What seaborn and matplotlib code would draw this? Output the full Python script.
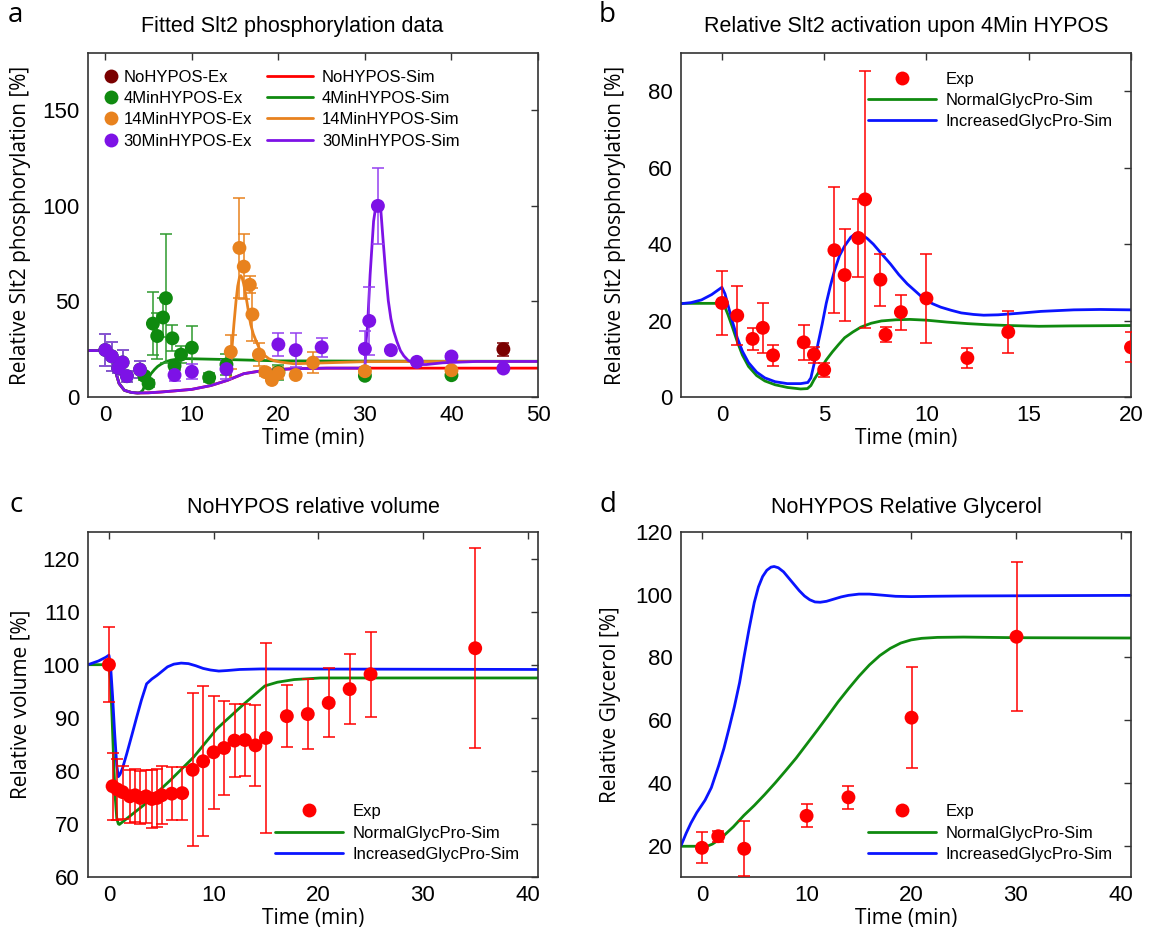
import numpy as np
import pandas as pd
import matplotlib
matplotlib.use("Agg")
import matplotlib.pyplot as plt
from matplotlib.lines import Line2D
import seaborn as sns

# ---------------- data: panel a ----------------
# simulated curves
sim_no_t = [-2, 0, 0.5, 0.8, 1.0, 1.3, 1.6, 2.2, 3.0, 3.7, 5, 6.4, 8, 10, 12.2, 14.1, 16, 17.9, 20, 21.8, 25.6, 30, 40, 50]
sim_no_v = [24.3, 24.3, 23.5, 21.5, 17.5, 11.5, 7, 3.5, 2.4, 2.1, 2.2, 2.6, 3.2, 4, 6, 8.7, 12.2, 13.6, 14.4, 14.8, 15.1, 15.1, 15.1, 15.1]

sim4_t = [-2, 0, 0.5, 0.8, 1.0, 1.3, 1.6, 2.2, 3.0, 3.7, 4.0, 4.34, 4.6, 4.92, 5.3, 5.69, 6.05, 6.45, 7.0, 7.6, 8.3, 9.14, 11.06, 14.1, 20, 30, 40, 50]
sim4_v = [24.3, 24.3, 23.5, 21.5, 17.5, 11.5, 7, 3.5, 2.4, 2.1, 2.2, 3.6, 6.5, 9.7, 12.3, 14.4, 16, 17.2, 18.5, 19.3, 19.8, 20.1, 19.9, 19.6, 18.9, 18.8, 18.7, 18.7]

sim14_t = [14.1, 14.45, 14.55, 14.86, 15.1, 15.3, 15.5, 15.65, 15.8, 16.0, 16.2, 16.4, 16.6, 16.8, 17.1, 17.4, 17.9, 18.4, 18.9, 19.5, 20.2, 21.8, 24.1, 30, 40, 50]
sim14_v = [8.7, 9.5, 20.9, 38, 50, 58, 62.5, 63.5, 62.5, 59, 54, 48.7, 43, 38, 33, 29.6, 24.3, 21.8, 20, 19, 18.3, 17.4, 17.7, 18.5, 18.6, 18.6]

sim30_t = [-2, 0, 0.5, 0.8, 1.0, 1.3, 1.6, 2.2, 3.0, 3.7, 5, 6.4, 8, 10, 12.2, 14.1, 16, 17.9, 20, 21.8, 25.6, 30,
           30.15, 30.3, 30.6, 31.0, 31.3, 31.6, 31.8, 32.1, 32.4, 32.7, 33.0, 33.3, 33.7, 34.1, 34.5, 35, 35.6, 36.2, 37.1, 39, 42.9, 50]
sim30_v = [24.3, 24.3, 23.5, 21.5, 17.5, 11.5, 7, 3.5, 2.4, 2.1, 2.2, 2.6, 3.2, 4, 6, 8.7, 12.2, 13.6, 14.4, 14.8, 15.1, 15.1,
           30, 37, 64, 92, 101, 101.5, 100, 82, 65, 50.4, 41, 34.8, 29, 24.3, 21.5, 19.1, 17.8, 17, 17, 17.9, 18.6, 18.6]

# experimental points
exp_no_t = [46]
exp_no_v = [25]
exp_no_e = [3.5]

exp4_t = [0, 0.75, 1.5, 2, 2.5, 4, 4.5, 5, 5.5, 6, 6.67, 7, 7.75, 8, 8.75, 10, 12, 14, 20, 30, 40]
exp4_v = [24.6, 21.3, 15.2, 18.1, 10.9, 14.3, 11.1, 7.1, 38.4, 31.9, 41.6, 51.7, 30.7, 16.3, 22.2, 25.8, 10.2, 17.0, 13.0, 11.1, 11.4]
exp4_e = [8.3, 7.7, 2.9, 6.6, 2.8, 4.6, 2.1, 1.9, 16.5, 12, 10.2, 33.7, 6.8, 2, 4.6, 11.6, 2.6, 5.5, 3.9, 1.0, 1.0]

exp14_t = [14.5, 15.5, 16, 16.7, 17, 17.75, 18.5, 19.25, 20, 22, 24, 30, 40]
exp14_v = [23.6, 78, 68.2, 58.7, 43.2, 22.2, 13, 8.9, 12.5, 11.5, 18, 13.5, 14]
exp14_e = [9, 26, 17, 4.5, 14, 6, 2, 1, 3, 1, 5.5, 1, 1]

exp30_t = [0, 0.75, 1.5, 2, 2.5, 4, 8, 10, 14, 20, 22, 25, 30, 30.5, 31.5, 33, 36, 40, 46]
exp30_v = [24.6, 21.3, 15.2, 18.1, 10.9, 14.3, 11.5, 13.2, 14.6, 27.5, 24.5, 26, 25.2, 39.8, 100, 24.5, 18.4, 21.2, 14.9]
exp30_e = [8.3, 7.7, 2.9, 6.6, 2.8, 4.6, 3, 4, 5, 6, 9, 5, 9.5, 18, 19.7, 1, 1, 1.5, 1]

# ---------------- data: panel b ----------------
b_exp_t = [0, 0.75, 1.5, 2, 2.5, 4, 4.5, 5, 5.5, 6, 6.67, 7, 7.75, 8, 8.75, 10, 12, 14, 20]
b_exp_v = [24.6, 21.3, 15.2, 18.1, 10.9, 14.3, 11.1, 7.1, 38.4, 31.9, 41.6, 51.7, 30.7, 16.3, 22.2, 25.8, 10.2, 17.0, 13.0]
b_exp_e = [8.3, 7.7, 2.9, 6.6, 2.8, 4.6, 2.1, 1.9, 16.5, 12, 10.2, 33.7, 6.8, 2, 4.6, 11.6, 2.6, 5.5, 3.9]

b_norm_t = [-2, 0, 0.15, 0.3, 0.5, 0.75, 1.0, 1.3, 1.7, 2.1, 2.6, 3.2, 3.85, 4.18, 4.35, 4.5, 4.7, 4.9, 5.1, 5.4, 5.7,
            6.0, 6.4, 6.8, 7.3, 7.8, 8.5, 9.2, 10, 11, 12, 13, 14, 15.5, 17, 20]
b_norm_v = [24.5, 24.5, 23.5, 21.5, 18.5, 14.5, 11, 8, 5.6, 4.2, 3.2, 2.5, 2.1, 2.2, 3.0, 4.5, 6.2, 8, 9.7, 11.8, 13.7,
            15.5, 17, 18.3, 19.3, 19.9, 20.2, 20.3, 20.1, 19.6, 19.2, 18.9, 18.7, 18.5, 18.6, 18.7]

b_inc_t = [-2, -1.5, -1.0, -0.5, 0, 0.15, 0.3, 0.5, 0.75, 1.0, 1.3, 1.7, 2.1, 2.6, 3.2, 3.85, 4.2, 4.35, 4.5, 4.7, 4.9,
           5.1, 5.3, 5.5, 5.75, 6.0, 6.3, 6.55, 6.8, 7.1, 7.4, 7.8, 8.24, 8.65, 9.06, 9.5, 9.87, 10.3, 10.7, 11.2,
           11.7, 12.3, 12.8, 13.5, 14.5, 15.6, 17.2, 18.5, 20]
b_inc_v = [24.4, 24.7, 25.4, 26.8, 28.7, 27, 24, 20, 15.5, 12, 9, 6.5, 5, 4, 3.5, 3.5, 3.8, 5, 8.5, 14, 19,
           24.5, 29, 33, 37, 39.5, 41.8, 42.8, 42.6, 41.5, 40, 37.5, 34.8, 32, 29.6, 27.5, 25.7, 24.4, 23.5, 22.7,
           22, 21.6, 21.4, 21.5, 21.9, 22.4, 22.8, 22.9, 22.8]

# ---------------- data: panel c ----------------
c_exp_t = [0, 0.35, 0.8, 1.3, 2.0, 2.5, 3.0, 3.55, 4.1, 4.6, 5.05, 6.0, 7.0, 8, 9, 10, 11, 12, 13, 14, 15, 17, 19, 21, 23, 25, 35]
c_exp_v = [100, 77.1, 76.5, 76, 75.2, 75.4, 74.9, 75.2, 74.7, 74.9, 75.4, 75.7, 75.8, 80.2, 81.8, 83.5, 84.3, 85.7, 85.8, 84.8, 86.2, 90.3, 90.7, 92.8, 95.4, 98.2, 103.1]
c_exp_e = [7.1, 6.3, 5.7, 5, 5, 5, 5, 5, 5.5, 5.5, 5.5, 5, 5, 14.4, 14.1, 10.6, 8.8, 6.8, 6.7, 7.6, 17.9, 5.8, 6.6, 6.5, 6.6, 8, 18.8]

c_norm_t = [-2, 0, 0.15, 0.3, 0.45, 0.6, 0.75, 0.9, 1.0, 3.3, 5.85, 8.1, 10.3, 12.9, 14.9, 16.1, 17.7, 20.2, 41]
c_norm_v = [100, 100, 97, 90, 82, 75, 71, 70, 69.9, 73.5, 78.2, 82.6, 87.9, 92.6, 96, 96.7, 97.2, 97.5, 97.5]

c_inc_t = [-2, -1, -0.3, 0, 0.15, 0.35, 0.55, 0.75, 0.9, 1.05, 1.3, 1.7, 2.2, 2.65, 3.1, 3.6, 4.1, 4.6, 5.1, 5.6, 6.2,
           6.9, 7.6, 8.3, 9.0, 9.7, 10.5, 11.3, 12.5, 14.5, 41]
c_inc_v = [100, 100.7, 101.4, 101.8, 100, 94, 87, 81, 78.9, 79.3, 80.5, 83.2, 86.8, 90.1, 93.3, 96.4, 97.3, 98, 98.8, 99.6, 100.1,
           100.3, 100.2, 99.8, 99.3, 99, 98.8, 98.9, 99.1, 99.2, 99.1]

# ---------------- data: panel d ----------------
d_exp_t = [0, 1.56, 4.04, 10, 14, 20.03, 30.06]
d_exp_v = [19.3, 23, 19, 29.5, 35.4, 60.8, 86.6]
d_exp_lo = [4.8, 1.9, 8.8, 3.7, 3.7, 16.1, 23.7]
d_exp_hi = [4.9, 1.6, 8.7, 3.9, 3.7, 16.3, 23.9]

d_norm_t = [-2, 0.5, 1.0, 1.5, 2.0, 3.0, 4.0, 5.0, 6.0, 7.0, 8.0, 9.0, 10.0, 11.0, 12.0, 13.0, 14.0, 15.0, 16.0, 17.0,
            18.0, 19.0, 20.0, 21.0, 22.5, 25, 30, 41]
d_norm_v = [19.8, 19.8, 20.5, 21.6, 22.9, 26, 29.6, 32.8, 36.3, 40, 43.9, 47.9, 52.3, 56.7, 61.2, 65.8, 70, 74, 77.6, 80.6,
            82.9, 84.6, 85.6, 86.1, 86.4, 86.5, 86.3, 86.2]

d_inc_t = [-2, -1.5, -1.05, -0.5, 0, 0.3, 0.6, 0.9, 1.2, 1.6, 2.1, 2.6, 3.1, 3.6, 4.04, 4.5, 5.0, 5.4, 5.8, 6.2, 6.6,
           6.9, 7.3, 7.8, 8.3, 8.8, 9.3, 9.8, 10.3, 10.8, 11.3, 11.9, 12.6, 13.3, 14, 15, 16, 17.1, 18.5, 20, 22, 25, 41]
d_inc_v = [20, 24, 27.2, 30.5, 33, 34.5, 36.5, 38.5, 41.5, 45.5, 51, 57.5, 64.3, 72, 80.5, 89, 97.5, 102.5, 105.8, 107.8, 108.8,
           109, 108.6, 107.3, 105.3, 103.3, 101.3, 99.6, 98.4, 97.7, 97.6, 97.9, 98.6, 99.3, 99.8, 100.2, 100.2, 99.9, 99.5,
           99.4, 99.5, 99.6, 99.8]

# ---------------- style ----------------
sns.set_theme(style="white")
plt.rcParams['font.family'] = ['Liberation Sans', 'DejaVu Sans']
plt.rcParams['text.color'] = 'black'
plt.rcParams['axes.labelcolor'] = 'black'

C_RED = '#ff0000'
C_GREEN = '#0f8a0f'
C_ORANGE = '#e8821e'
C_PURPLE = '#7d12e6'
C_MAROON = '#7a0000'
C_BLUE = '#0a14ff'
LW = 2.0
MS = 10
TICK_FS = 16
TITLE_FS = 15.5
LABEL_FS = 15
LEG_FS = 12
LABEL_FONT = ['Open Sans', 'DejaVu Sans']
LSP = 0.38

W, H = 1150, 938
fig = plt.figure(figsize=(W / 100, H / 100), dpi=100)


def add_ax(x0, y_top, w=450, h=344):
    return fig.add_axes([x0 / W, 1 - (y_top + h) / H, w / W, h / H])


ax_a = add_ax(88, 53)
ax_b = add_ax(681, 53)
ax_c = add_ax(88, 532, h=345)
ax_d = add_ax(681, 532, h=345)


def style_axis(ax):
    for s in ax.spines.values():
        s.set_color('#333333')
        s.set_linewidth(1.2)
        s.set_visible(True)
    ax.tick_params(direction='in', top=True, right=True, length=5, width=1.0,
                   color='#333333', labelsize=TICK_FS, pad=6, labelcolor='black')
    ax.grid(False)
    ax.set_facecolor('white')


def line(ax, t, v, color, zorder=2):
    sns.lineplot(x=t, y=v, ax=ax, color=color, linewidth=LW, sort=False,
                 estimator=None, zorder=zorder, legend=False)


def points(ax, t, v, err, color, ecolor=None, zorder=3):
    ax.errorbar(t, v, yerr=err, fmt='none', ecolor=ecolor or color, elinewidth=1.1,
                capsize=4, capthick=1.1, zorder=zorder)
    sns.scatterplot(x=t, y=v, ax=ax, color=color, s=MS ** 2, edgecolor='none',
                    linewidth=0, zorder=zorder + 0.5, legend=False)


# ---------------- panel a ----------------
ax = ax_a
line(ax, sim_no_t, sim_no_v, C_RED)
line(ax, sim4_t, sim4_v, C_GREEN)
line(ax, sim14_t, sim14_v, C_ORANGE)
line(ax, sim30_t, sim30_v, C_PURPLE)
points(ax, exp_no_t, exp_no_v, exp_no_e, C_MAROON)
points(ax, exp4_t, exp4_v, exp4_e, C_GREEN, '#2e9a2e')
points(ax, exp14_t, exp14_v, exp14_e, C_ORANGE)
points(ax, exp30_t, exp30_v, exp30_e, C_PURPLE, '#9440f0')
ax.set_xlim(-2, 50)
ax.set_ylim(0, 180)
ax.set_xticks([0, 10, 20, 30, 40, 50])
ax.set_yticks([0, 50, 100, 150])
ax.set_title('Fitted Slt2 phosphorylation data', fontsize=TITLE_FS, pad=15, x=0.453)
ax.set_ylabel('Relative Slt2 phosphorylation [%]', fontsize=LABEL_FS, family=LABEL_FONT)
ax.set_xlabel('Time (min)', fontsize=LABEL_FS, family=LABEL_FONT)
style_axis(ax)

ex_handles = [Line2D([], [], ls='none', marker='o', ms=MS, color=c, mec='none')
              for c in [C_MAROON, C_GREEN, C_ORANGE, C_PURPLE]]
ex_labels = ['NoHYPOS-Ex', '4MinHYPOS-Ex', '14MinHYPOS-Ex', '30MinHYPOS-Ex']
leg1 = ax.legend(ex_handles, ex_labels, loc='upper left', bbox_to_anchor=(0.033, 0.952),
                 frameon=False, fontsize=LEG_FS, handlelength=1.0, handletextpad=0.25,
                 labelspacing=LSP, borderpad=0, borderaxespad=0)
ax.add_artist(leg1)
sim_handles = [Line2D([], [], color=c, lw=LW) for c in [C_RED, C_GREEN, C_ORANGE, C_PURPLE]]
sim_labels = ['NoHYPOS-Sim', '4MinHYPOS-Sim', '14MinHYPOS-Sim', '30MinHYPOS-Sim']
ax.legend(sim_handles, sim_labels, loc='upper left', bbox_to_anchor=(0.398, 0.952),
          frameon=False, fontsize=LEG_FS, handlelength=2.75, handletextpad=0.55,
          labelspacing=LSP, borderpad=0, borderaxespad=0)

# common legend for b, c, d
exp_handle = Line2D([], [], ls='none', marker='o', ms=MS, color=C_RED, mec='none')
norm_handle = Line2D([], [], color=C_GREEN, lw=LW)
inc_handle = Line2D([], [], color=C_BLUE, lw=LW)
lab3 = ['Exp', 'NormalGlycPro-Sim', 'IncreasedGlycPro-Sim']


def legend3(ax, y):
    ax.legend([exp_handle, norm_handle, inc_handle], lab3, loc='upper left',
              bbox_to_anchor=(0.4156, y), frameon=False, fontsize=LEG_FS,
              handlelength=4.1, handletextpad=0.55, labelspacing=LSP,
              borderpad=0, borderaxespad=0)


# ---------------- panel b ----------------
ax = ax_b
line(ax, b_norm_t, b_norm_v, C_GREEN)
line(ax, b_inc_t, b_inc_v, C_BLUE)
points(ax, b_exp_t, b_exp_v, b_exp_e, C_RED)
ax.set_xlim(-2, 20)
ax.set_ylim(0, 90)
ax.set_xticks([0, 5, 10, 15, 20])
ax.set_yticks([0, 20, 40, 60, 80])
ax.set_title('Relative Slt2 activation upon 4Min HYPOS', fontsize=TITLE_FS, pad=15)
ax.set_ylabel('Relative Slt2 phosphorylation [%]', fontsize=LABEL_FS, family=LABEL_FONT)
ax.set_xlabel('Time (min)', fontsize=LABEL_FS, family=LABEL_FONT)
style_axis(ax)
legend3(ax, 0.946)

# ---------------- panel c ----------------
ax = ax_c
line(ax, c_norm_t, c_norm_v, C_GREEN)
line(ax, c_inc_t, c_inc_v, C_BLUE)
points(ax, c_exp_t, c_exp_v, c_exp_e, C_RED)
ax.set_xlim(-2, 41)
ax.set_ylim(60, 125)
ax.set_xticks([0, 10, 20, 30, 40])
ax.set_yticks([60, 70, 80, 90, 100, 110, 120])
ax.set_title('NoHYPOS relative volume', fontsize=TITLE_FS, pad=14)
ax.set_ylabel('Relative volume [%]', fontsize=LABEL_FS, family=LABEL_FONT)
ax.set_xlabel('Time (min)', fontsize=LABEL_FS, family=LABEL_FONT)
style_axis(ax)
legend3(ax, 0.211)

# ---------------- panel d ----------------
ax = ax_d
line(ax, d_norm_t, d_norm_v, C_GREEN)
line(ax, d_inc_t, d_inc_v, C_BLUE)
ax.errorbar(d_exp_t, d_exp_v, yerr=[d_exp_lo, d_exp_hi], fmt='none', ecolor=C_RED,
            elinewidth=1.1, capsize=4, capthick=1.1, zorder=3)
sns.scatterplot(x=d_exp_t, y=d_exp_v, ax=ax, color=C_RED, s=MS ** 2, edgecolor='none',
                linewidth=0, zorder=3.5, legend=False)
ax.set_xlim(-2, 41)
ax.set_ylim(10, 120)
ax.set_xticks([0, 10, 20, 30, 40])
ax.set_yticks([20, 40, 60, 80, 100, 120])
ax.set_title('NoHYPOS Relative Glycerol', fontsize=TITLE_FS, pad=14)
ax.set_ylabel('Relative Glycerol [%]', fontsize=LABEL_FS, family=LABEL_FONT)
ax.set_xlabel('Time (min)', fontsize=LABEL_FS, family=LABEL_FONT)
style_axis(ax)
legend3(ax, 0.211)

# y label positions (right edge of rotated label box)
ax_a.yaxis.set_label_coords(-0.1256, 0.5)
ax_b.yaxis.set_label_coords(-0.1233, 0.5)
ax_c.yaxis.set_label_coords(-0.1256, 0.5)
ax_d.yaxis.set_label_coords(-0.1344, 0.5)
for ax in (ax_a, ax_b, ax_c, ax_d):
    ax.xaxis.labelpad = 1

# panel letters
for txt, x, y in [('a', 15, 15), ('b', 607, 15), ('c', 16, 505), ('d', 608, 505)]:
    fig.text(x / W, 1 - y / H, txt, fontsize=20, family=LABEL_FONT, ha='center', va='center')

fig.savefig('out.png', dpi=100)
